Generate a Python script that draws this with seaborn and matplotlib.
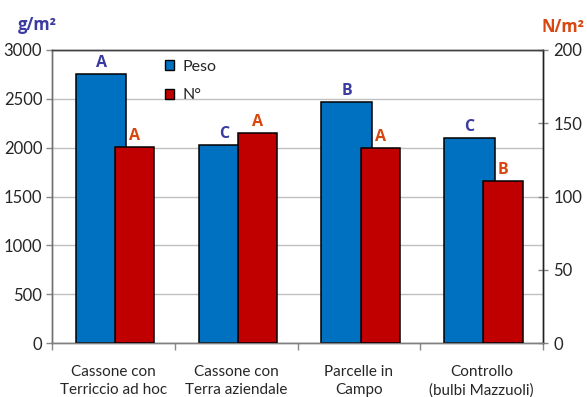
import numpy as np
import pandas as pd
import matplotlib
matplotlib.use("Agg")
import matplotlib.pyplot as plt
from matplotlib.patches import Patch
import seaborn as sns

# Data
categories = ["Cassone con\nTerriccio ad hoc", "Cassone con\nTerra aziendale",
              "Parcelle in\nCampo", "Controllo\n(bulbi Mazzuoli)"]
peso = [2750, 2025, 2470, 2100]          # g/m2 (left axis)
numero = [134, 143.5, 133, 110.5]        # N/m2 (right axis)
peso_letters = ["A", "C", "B", "C"]
numero_letters = ["A", "A", "A", "B"]
left_ticks = [0, 500, 1000, 1500, 2000, 2500, 3000]
right_ticks = [0, 50, 100, 150, 200]

BLUE = "#0070C0"
RED = "#C00000"
BLUE_TXT = "#3B3BA0"
RED_TXT = "#D8470F"
BOLD_FAMILY = ["Open Sans", "DejaVu Sans"]

sns.set_theme(style="white")
plt.rcParams["font.family"] = ["Lato", "DejaVu Sans"]

fig = plt.figure(figsize=(5.87, 3.97), dpi=100)
ax1 = fig.add_axes([52 / 587, 1 - 343 / 397, 491 / 587, 293 / 397])
ax2 = ax1.twinx()

pos = np.arange(len(categories))
df = pd.DataFrame({"pos_peso": pos - 0.10, "pos_num": pos + 0.175,
                   "peso": peso, "numero": numero})

sns.barplot(data=df, x="pos_peso", y="peso", native_scale=True, width=0.41,
            color=BLUE, saturation=1, edgecolor="black", linewidth=1.1,
            ax=ax1, zorder=3)
sns.barplot(data=df, x="pos_num", y="numero", native_scale=True, width=0.32,
            color=RED, saturation=1, edgecolor="black", linewidth=1.1,
            ax=ax2, zorder=3)

for ax in (ax1, ax2):
    ax.set_xlim(-0.5, 3.5)
    ax.set_xlabel("")
    ax.set_ylabel("")

ax1.set_ylim(0, 3000)
ax2.set_ylim(0, 200)
ax1.set_yticks(left_ticks)
ax2.set_yticks(right_ticks)
ax1.yaxis.grid(True, color="#C0C0C0", linewidth=1)
ax1.set_axisbelow(True)

# category labels centred, tick marks on the boundaries
ax1.set_xticks(pos)
ax1.set_xticklabels(categories, fontsize=11, linespacing=1.35)
ax1.set_xticks(np.arange(-0.5, 4, 1), minor=True)
ax1.tick_params(axis="x", which="major", length=0, pad=16)
ax1.tick_params(axis="x", which="minor", length=5, color="#888888", width=1,
                direction="out", bottom=True)
ax1.tick_params(axis="y", which="major", length=4, color="#888888", width=1,
                direction="out", left=True, labelsize=12, pad=3)
ax2.tick_params(axis="y", which="major", length=7, color="#888888", width=1,
                direction="inout", right=True, labelsize=12, pad=4)

for ax in (ax1, ax2):
    for s in ax.spines.values():
        s.set_visible(True)
        s.set_linewidth(1)
    ax.spines["left"].set_color("#707070")
    ax.spines["bottom"].set_color("#808080")
    ax.spines["top"].set_color("#404040")
    ax.spines["right"].set_color("#202020")

# significance letters
for x, v, t in zip(df["pos_peso"], peso, peso_letters):
    ax1.text(x, v + 30, t, ha="center", va="bottom", fontsize=11.5,
             fontweight="bold", family=BOLD_FAMILY, color=BLUE_TXT, zorder=5)
for x, v, t in zip(df["pos_num"], numero, numero_letters):
    ax2.text(x, v + 2.0, t, ha="center", va="bottom", fontsize=11.5,
             fontweight="bold", family=BOLD_FAMILY, color=RED_TXT, zorder=5)

# axis unit titles
fig.text(37 / 587, 1 - 25 / 397, "g/m²", ha="center", va="center",
         fontsize=12, fontweight="bold", family=BOLD_FAMILY, color=BLUE_TXT)
fig.text(563 / 587, 1 - 27 / 397, "N/m²", ha="center", va="center",
         fontsize=12, fontweight="bold", family=BOLD_FAMILY, color=RED_TXT)

handles = [Patch(facecolor=BLUE, edgecolor="black", linewidth=1),
           Patch(facecolor=RED, edgecolor="black", linewidth=1)]
leg = ax2.legend(handles, ["Peso", "N°"], loc="upper left",
                 bbox_to_anchor=(0.2, 1.015), frameon=False, fontsize=11.5,
                 handlelength=0.6, handleheight=0.6, handletextpad=0.5,
                 labelspacing=0.9)

fig.savefig("out.png", dpi=100)
